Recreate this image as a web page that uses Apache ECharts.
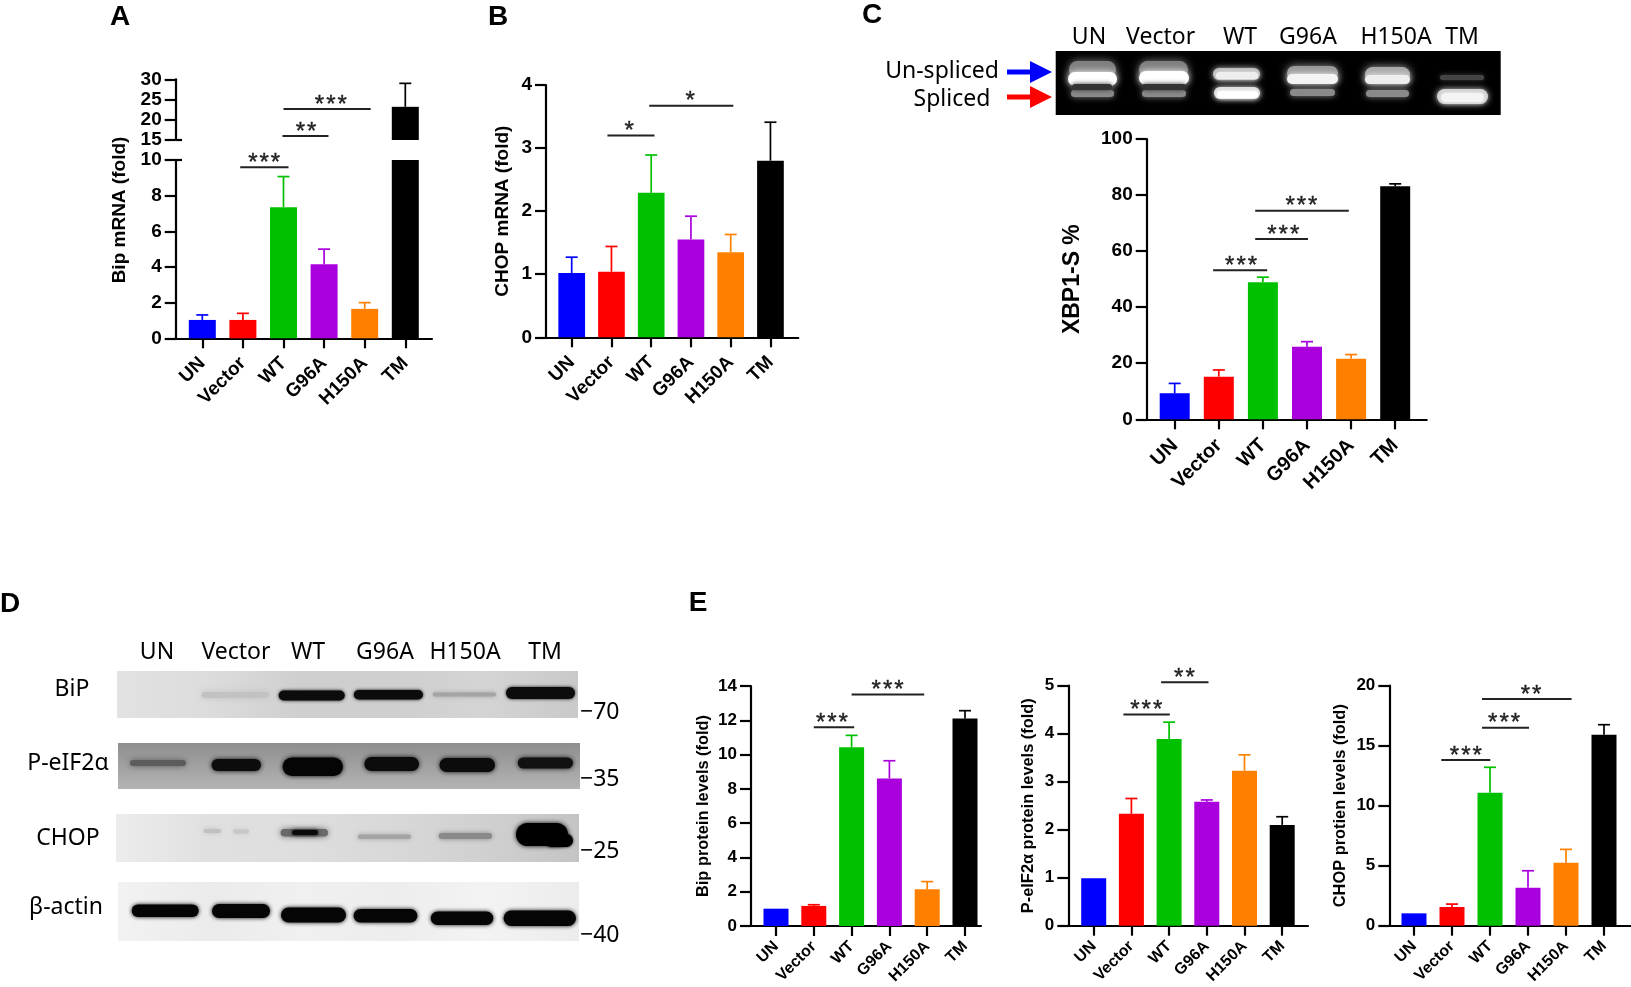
<!DOCTYPE html>
<html>
<head>
<meta charset="utf-8">
<style>html,body{margin:0;padding:0;background:#fff}#c{width:1631px;height:987px}</style>
<script src="https://cdn.jsdelivr.net/npm/echarts@6/dist/echarts.min.js"></script>
</head>
<body>
<div id="c"></div>
<script>
const categories = ['UN','Vector','WT','G96A','H150A','TM'];
const barColors = ['#0000ff','#ff0000','#00c000','#aa00dd','#ff8000','#000000'];

const bipMrna      = [1.03,1.03,7.35,4.15,1.65,23.2];
const bipMrnaTop   = [1.31,1.40,9.07,5.00,2.00,29.0];
const chopMrna     = [1.02,1.04,2.29,1.55,1.35,2.80];
const chopMrnaTop  = [1.27,1.44,2.89,1.92,1.63,3.41];
const xbp1s        = [9.3,15.2,48.9,25.9,21.6,83.1];
const xbp1sTop     = [12.8,17.6,50.7,27.7,23.1,84.0];
const bipProt      = [1.01,1.17,10.42,8.61,2.14,12.11];
const bipProtTop   = [1.01,1.24,11.12,9.64,2.59,12.56];
const eif2Prot     = [0.99,2.33,3.89,2.58,3.23,2.10];
const eif2ProtTop  = [0.99,2.65,4.24,2.62,3.56,2.27];
const chopProt     = [1.03,1.56,11.08,3.17,5.25,15.92];
const chopProtTop  = [1.03,1.80,13.20,4.58,6.36,16.75];

// significance brackets: [from category, to category, level on the value axis, stars]
const sigBipLow  = [[1,2,9.6,'***']];
const sigBipHigh = [[2,3,16.0,'**'],[2,4,22.66,'***']];
const sigChop    = [[1,2,3.2,'*'],[2,4,3.67,'*']];
const sigXbp     = [[1,2,53.2,'***'],[2,3,64.3,'***'],[2,4,74.4,'***']];
const sigBipProt = [[1,2,11.59,'***'],[2,4,13.51,'***']];
const sigEif2    = [[1,2,4.40,'***'],[2,3,5.07,'**']];
const sigChopProt= [[1,2,13.8,'***'],[2,3,16.5,'***'],[2,4,18.9,'**']];

const gelLabels = ['UN','Vector','WT','G96A','H150A','TM'];
const blotRows = ['BiP','P-eIF2α','CHOP','β-actin'];
const ladder = ['−70','−35','−25','−40'];

// hand-drawn bracket overhang: [start, end, stars], separate from the readings above
const nudgeBipLow  = [[-2.7,5,1]];
const nudgeBipHigh = [[-1,4.4,2.2],[0,6,6.7]];
const nudgeChop    = [[-4,3.3,-2.2],[-2,2.6,-0.9]];
const nudgeXbp     = [[-5.7,4.3,0.2],[-7.7,1,-1.7],[-7.7,-2.3,-5.6]];
const nudgeBipProt = [[0,2.6,-0.8],[0,-3,-1.8]];
const nudgeEif2    = [[-8,0.7,-4],[-8,1.7,-3.5]];
const nudgeChopProt= [[-10.7,0.3,-5.2],[-8,1,-4.9],[-8,5.6,3.1]];

const SANS = '"Liberation Sans", Arial, sans-serif';
const BLOT = '"Noto Sans", sans-serif';
const AXIS = '#000';
const HAIR = '\u200a';

const grids=[], xAxes=[], yAxes=[], series=[];

function addAxisPair(o){
  const gi = grids.length;
  grids.push({left:o.left, width:o.band*6, top:o.top, height:o.height, containLabel:false});
  xAxes.push({gridIndex:gi,type:'category',data:categories,show:o.showX!==false,
    axisLine:{show:false},
    axisTick:{show:true,alignWithLabel:true,length:10,lineStyle:{color:AXIS,width:2.2}},
    axisLabel:{rotate:45,interval:0,margin:o.xMargin,color:'#000',fontFamily:SANS,fontWeight:'bold',fontSize:o.xFont}});
  yAxes.push({gridIndex:gi,type:'value',min:o.min,max:o.max,interval:o.interval,offset:o.offset,
    splitLine:{show:false},
    axisLine:{show:true,lineStyle:{color:AXIS,width:2.2}},
    axisTick:{show:true,length:11,lineStyle:{color:AXIS,width:2.2}},
    axisLabel:{margin:14,color:'#000',fontFamily:SANS,fontWeight:'bold',fontSize:o.yFont},
    name:o.title||'',nameLocation:'middle',nameGap:o.nameGap||0,
    nameTextStyle:{color:'#000',fontFamily:SANS,fontWeight:'bold',fontSize:o.titleFont}});
  return gi;
}
function addBase(axisX,endX,y){
  const gi=grids.length;
  grids.push({left:axisX,width:endX-axisX,top:y,height:1});
  xAxes.push({gridIndex:gi,type:'value',min:0,max:1,position:'top',
    axisLine:{show:true,onZero:false,lineStyle:{color:AXIS,width:2.2}},axisTick:{show:false},axisLabel:{show:false},splitLine:{show:false}});
  yAxes.push({gridIndex:gi,type:'value',show:false,min:0,max:1});
}
function addMarks(gi,vals,tops,sig,barW,nudge){
  if(vals) series.push({type:'bar',xAxisIndex:gi,yAxisIndex:gi,barWidth:barW,clip:true,z:3,
    data:vals.map((v,i)=>v==null?null:{value:v,itemStyle:{color:barColors[i]}})});
  if(tops) series.push({type:'custom',xAxisIndex:gi,yAxisIndex:gi,z:2,silent:true,
    encode:{x:0,y:[1,2]},
    data:tops.map((t,i)=>[i,vals[i],t]).filter(d=>d[1]!=null&&d[2]!=null&&d[2]>d[1]),
    renderItem:(p,api)=>{
      const i=api.value(0), a=api.coord([i,api.value(1)]), b=api.coord([i,api.value(2)]);
      const col=barColors[i];
      return {type:'group',children:[
        {type:'line',shape:{x1:a[0],y1:a[1],x2:b[0],y2:b[1]},style:{stroke:col,lineWidth:1.7}},
        {type:'line',shape:{x1:b[0]-6,y1:b[1],x2:b[0]+6,y2:b[1]},style:{stroke:col,lineWidth:1.7}}
      ]};
    }});
  if(sig&&sig.length) series.push({type:'custom',xAxisIndex:gi,yAxisIndex:gi,z:4,silent:true,clip:false,
    encode:{x:[0,1],y:2},
    data:sig.map(s=>[s[0],s[1],s[2]]),
    renderItem:(p,api)=>{
      const a=api.coord([api.value(0),api.value(2)]), b=api.coord([api.value(1),api.value(2)]);
      const n=nudge[p.dataIndex];
      return {type:'group',children:[
        {type:'line',shape:{x1:a[0]+n[0],y1:a[1],x2:b[0]+n[1],y2:b[1]},style:{stroke:'#222',lineWidth:2}},
        {type:'text',style:{text:sig[p.dataIndex][3].split('').join(HAIR),x:(a[0]+b[0])/2+n[2],y:a[1]+8,align:'center',verticalAlign:'bottom',
          font:'24px '+SANS,fill:'#222',stroke:'#222',lineWidth:0.4}}
      ]};
    }});
}
function panel(o){
  const left=o.c0-o.band/2;
  const gi=addAxisPair({left,band:o.band,top:o.top,height:o.y0-o.top,min:o.min,max:o.max,interval:o.interval,
    offset:left-o.axisX,xFont:o.xFont,xMargin:o.xMargin,yFont:o.yFont,title:o.title,titleFont:o.titleFont,nameGap:o.nameGap});
  addBase(o.axisX,o.endX,o.y0);
  addMarks(gi,o.vals,o.tops,o.sig,o.barW,o.nudge);
}

// Panel A: broken axis, lower and upper segment
(function(){
  const c0=202.3,band=40.6,axisX=175.7,left=c0-band/2;
  const low=addAxisPair({left,band,top:160,height:178.3,min:0,max:10,interval:2,offset:left-axisX,xFont:19,xMargin:22,yFont:19});
  addBase(axisX,432,338.3);
  addMarks(low,bipMrna,bipMrnaTop.map((t,i)=>t>10?null:t),sigBipLow,27,nudgeBipLow);
  const high=addAxisPair({left,band,top:79.3,height:60.7,min:15,max:30,interval:5,offset:left-axisX,xFont:19,xMargin:22,yFont:19,showX:false});
  const hv=bipMrna.map(v=>v>15?v:null), ht=bipMrnaTop.map(t=>t>15?t:null);
  addMarks(high,hv,ht,sigBipHigh,27,nudgeBipHigh);
})();
panel({c0:571.7,band:39.75,axisX:546,endX:798.3,top:85,y0:337.3,min:0,max:4,interval:1,xFont:19,xMargin:22,yFont:19,
  title:'CHOP mRNA (fold)',titleFont:19,nameGap:34,vals:chopMrna,tops:chopMrnaTop,sig:sigChop,nudge:nudgeChop,barW:26.7});
panel({c0:1174.7,band:44.1,axisX:1146.7,endX:1426.7,top:139,y0:419.3,min:0,max:100,interval:20,xFont:20,xMargin:23,yFont:19,
  title:'XBP1-S %',titleFont:23,nameGap:63,vals:xbp1s,tops:xbp1sTop,sig:sigXbp,nudge:nudgeXbp,barW:30});
panel({c0:776,band:37.8,axisX:751,endX:981,top:686,y0:926,min:0,max:14,interval:2,xFont:16,xMargin:18,yFont:17,
  title:'Bip protein levels (fold)',titleFont:16.4,nameGap:40,vals:bipProt,tops:bipProtTop,sig:sigBipProt,nudge:nudgeBipProt,barW:25});
panel({c0:1093.7,band:37.7,axisX:1068.3,endX:1308,top:685.7,y0:925.7,min:0,max:5,interval:1,xFont:16,xMargin:18,yFont:17,
  title:'P-eIF2α protein levels (fold)',titleFont:16.4,nameGap:32,vals:eif2Prot,tops:eif2ProtTop,sig:sigEif2,nudge:nudgeEif2,barW:25});
panel({c0:1414,band:38,axisX:1389.3,endX:1631,top:685.7,y0:925.7,min:0,max:20,interval:5,xFont:16,xMargin:18,yFont:17,
  title:'CHOP protien levels (fold)',titleFont:16.4,nameGap:41,vals:chopProt,tops:chopProtTop,sig:sigChopProt,nudge:nudgeChopProt,barW:25});

// -------- decoration: panel letters, gel and western blot images --------
const g=[];
const txt=(s,x,y,font,opt)=>g.push(Object.assign({type:'text',x,y,rotation:(opt&&opt.rot)||0,z:10,
  style:{text:s,font,fill:'#000',align:(opt&&opt.align)||'center',verticalAlign:'middle'}}));
const band=(x1,x2,y1,y2,fill,blur)=>g.push({type:'rect',z:2,silent:true,
  shape:{x:x1,y:y1,width:x2-x1,height:y2-y1,r:Math.min(y2-y1,x2-x1)/2},
  style:{fill,shadowBlur:blur,shadowColor:fill}});
const bg=(x,y,w,h,stops,dir)=>g.push({type:'rect',z:1,silent:true,shape:{x,y,width:w,height:h},
  style:{fill:new echarts.graphic.LinearGradient(0,0,dir==='v'?0:1,dir==='v'?1:0,stops.map((c,i)=>({offset:i/(stops.length-1),color:c})))}});

[['A',120,17],['B',498,17],['C',872,15],['D',10,604],['E',698,603]].forEach(l=>txt(l[0],l[1],l[2],'bold 28px '+SANS));
txt('Bip mRNA (fold)',120,210,'bold 19px '+SANS,{rot:Math.PI/2});

// axis-break marks of panel A
[140,160].forEach(y=>g.push({type:'line',z:6,shape:{x1:175.7,y1:y,x2:182,y2:y},style:{stroke:'#000',lineWidth:2.2}}));

// panel C gel
bg(1055.7,51,445,64,['#000','#000']);
[[1069,1116,61,78,'#808080',9],[1068,1117,72,86,'#fff',7],[1071,1114,90,97,'#8a8a8a',6],[1072,1112,84,90,'#333',5],
 [1139,1188,61,78,'#808080',9],[1139,1189,71,85,'#fff',7],[1142,1186,90,97,'#8a8a8a',6],[1142,1186,84,90,'#333',5],
 [1213,1260,68,80,'#bbb',6],[1216,1258,72,79,'#eee',5],[1214,1260,87,99,'#ddd',6],[1217,1258,91,98,'#fff',5],
 [1287,1338,66,80,'#999',8],[1287,1338,74,84,'#f4f4f4',6],[1290,1335,89,96,'#8a8a8a',6],
 [1365,1410,67,82,'#aaa',8],[1365,1410,75,84,'#eee',6],[1366,1409,90,97,'#8a8a8a',6],
 [1440,1484,75,80,'#444',5],[1437,1488,89,104,'#cfcfcf',6],[1441,1484,93,102,'#f4f4f4',5]].forEach(b=>band(b[0],b[1],b[2],b[3],b[4],b[5]));
[1089,1160.6,1240,1308,1396,1462].forEach((x,i)=>txt(gelLabels[i],x,37.4,'23px '+BLOT));
txt('Un-spliced',942,71.5,'23px '+BLOT);
txt('Spliced',952,99,'23px '+BLOT);
const arrow=(y,col)=>g.push({type:'polygon',z:5,shape:{points:[[1007,y-2.5],[1030,y-2.5],[1030,y-11],[1052,y],[1030,y+11],[1030,y+2.5],[1007,y+2.5]]},style:{fill:col}});
arrow(72,'#0000ff'); arrow(97,'#ff0000');

// panel D blots
bg(117,671,461,47,['#e2e2e2','#dcdcdc','#cfcfcf','#cfcfcf','#d4d4d4','#c9c9c9']);
[[201.6,268.8,692,698,'#c2c2c2',6],[278.7,344.7,690.5,700.5,'#0c0c0c',3.5],[353.8,423,690,699.5,'#0c0c0c',3.5],
 [432.8,496,692.5,696.5,'#a4a4a4',4],[506,575,687,699,'#0c0c0c',3.5]].forEach(b=>band(...b));
bg(118,743,462,46,['#8e8e8e','#b4b4b4'],'v');
[[130,186,760,766,'#5c5c5c',6],[211.5,261,759,771,'#0c0c0c',5],[282.6,343,757.5,776,'#050505',5],
 [364.4,419,757,771,'#0c0c0c',5],[439.5,495,758,772,'#0c0c0c',5],[517.8,573,757.5,768.5,'#111',5]].forEach(b=>band(...b));
bg(116,814,463,48,['#ececec','#e0e0e0','#dedede','#d8d8d8','#d0d0d0','#c4c4c4']);
[[203.6,221,829,833,'#c0c0c0',5],[233,249,829.5,833.5,'#c6c6c6',5],[280.6,328,829,836.5,'#6a6a6a',6],[292,318,830,835,'#0a0a0a',4],
 [357.7,411,834.5,839,'#a4a4a4',5],[438.7,492,833,839,'#8a8a8a',5],[516,568,823,846,'#000',5],[545,573,834,847,'#000',3]].forEach(b=>band(...b));
bg(118,882,461,59,['#f2f2f2','#ebebeb','#f0f0f0','#ededed','#f3f3f3','#ececec']);
[[131.7,198.7,904.5,917,'#050505',4],[212,270,904,918,'#050505',4],[281,346,907.5,922.5,'#050505',4],
 [353.6,417.4,909,922.5,'#050505',4],[430.8,493.3,911.5,925,'#050505',4],[503.6,576,910.5,926,'#050505',4]].forEach(b=>band(...b));
[157,236,308,385,465,545].forEach((x,i)=>txt(gelLabels[i],x,652,'23px '+BLOT));
[[72,689],[68,763],[68,838],[66,907]].forEach((p,i)=>txt(blotRows[i],p[0],p[1],'23px '+BLOT));
[712,779,851,935].forEach((y,i)=>txt(ladder[i],580,y,'23px '+BLOT,{align:'left'}));

const chart=echarts.init(document.getElementById('c'),null,{renderer:'canvas'});
chart.setOption({animation:false,backgroundColor:'#fff',tooltip:{show:false},legend:{show:false},
  grid:grids,xAxis:xAxes,yAxis:yAxes,series,graphic:{elements:g}});
</script>
</body>
</html>
